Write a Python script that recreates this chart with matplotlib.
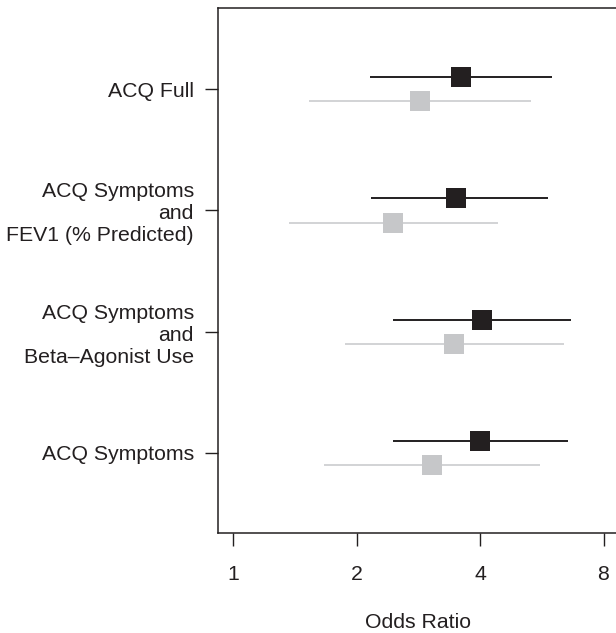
import numpy as np
import matplotlib
matplotlib.use("Agg")
import matplotlib.pyplot as plt

plt.rcParams['font.family'] = ['Liberation Sans', 'DejaVu Sans']

# rows from bottom to top
labels = ['ACQ Symptoms',
          'ACQ Symptoms\nand\nBeta\u2013Agonist Use',
          'ACQ Symptoms\nand\nFEV1 (% Predicted)',
          'ACQ Full']

# dark series (upper marker in each row)
dark_or = [4.01, 4.05, 3.49, 3.60]
dark_lo = [2.46, 2.46, 2.17, 2.16]
dark_hi = [6.57, 6.65, 5.85, 5.98]

# light series (lower marker in each row)
light_or = [3.06, 3.46, 2.45, 2.86]
light_lo = [1.67, 1.88, 1.37, 1.53]
light_hi = [5.61, 6.40, 4.42, 5.33]

ticks = [1, 2, 4, 8]

dark = '#231f20'
light = '#c6c7c9'

fig = plt.figure(figsize=(6.16, 6.33), dpi=100)
ax = fig.add_axes([218/616, 1 - 533/633, 400/616, 525/633])

pos = np.arange(1, len(labels) + 1)
off = 0.1

ax.hlines(pos + off, dark_lo, dark_hi, color=dark, lw=1.4, zorder=2)
ax.plot(dark_or, pos + off, 's', color=dark, ms=13.7, mew=0, zorder=3)
ax.hlines(pos - off, light_lo, light_hi, color='#d2d3d5', lw=1.4, zorder=2)
ax.plot(light_or, pos - off, 's', color=light, ms=13.7, mew=0, zorder=3)

ax.set_xscale('log', base=2)
ax.set_xlim(2 ** (-15/123.5), 2 ** (385/123.5))
ax.set_ylim(0.34, 4.67)
ax.set_xticks(ticks)
ax.set_xticklabels([str(t) for t in ticks])
ax.xaxis.set_minor_locator(matplotlib.ticker.NullLocator())
ax.set_yticks(pos)
ax.set_yticklabels(labels)
for lab in ax.get_yticklabels():
    lab.set_multialignment('right')
    lab.set_linespacing(1.2)

ax.tick_params(axis='both', direction='out', length=9.4, width=1.0,
               color='#231f20', labelsize=15.3, labelcolor='#231f20')
ax.tick_params(axis='x', pad=13.5)
ax.tick_params(axis='y', pad=8)
for s in ax.spines.values():
    s.set_linewidth(1.1)
    s.set_color('#231f20')

ax.set_xlabel('Odds Ratio', fontsize=15.3, color='#231f20', labelpad=21)

fig.savefig('out.png', dpi=100)
